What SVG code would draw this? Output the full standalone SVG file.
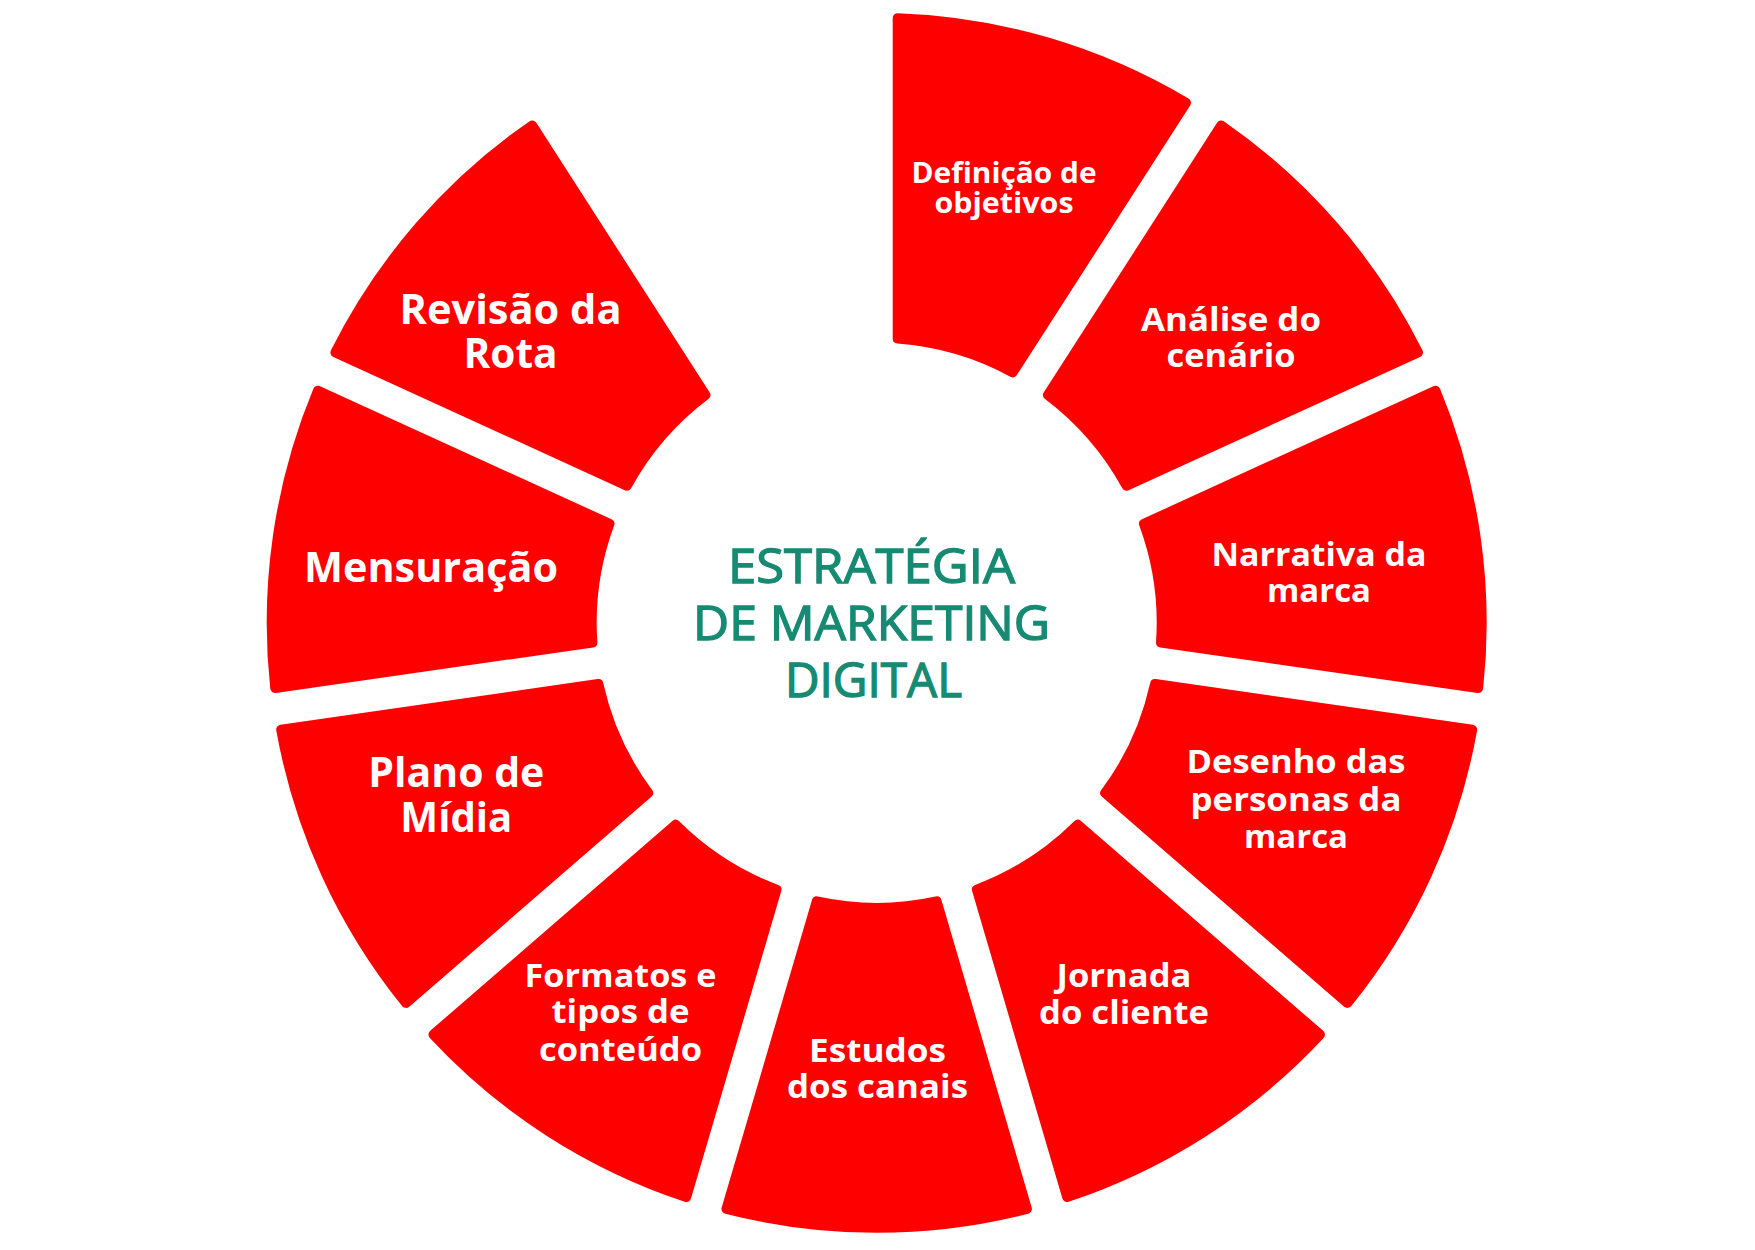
<svg xmlns="http://www.w3.org/2000/svg" xmlns:xlink="http://www.w3.org/1999/xlink" width="1755" height="1250" viewBox="0 0 1755 1250">
<style>
.seg{fill:#ff0000;stroke:#ff0000;stroke-width:10;stroke-linejoin:round}
.lbl{font-family:"Open Sans","Noto Sans","Liberation Sans",sans-serif;font-weight:700;fill:#ffffff;text-anchor:middle}
.s28{font-size:28px}
.s33{font-size:33px}
.s41{font-size:41px}
.ctr{font-family:"Open Sans","Liberation Sans",sans-serif;font-weight:500;font-size:48px;fill:#168a72;stroke:#168a72;stroke-width:1.3;text-anchor:middle}
</style>
<defs>
<path id="seg" class="seg" d="M21,-604.64 A605,605 0 0 1 309.23,-520.01 L136,-250.46 A285,285 0 0 0 21,-284.23 Z"/>
</defs>
<rect width="1755" height="1250" fill="#ffffff"/>
<g id="connectors"></g>
<g id="n1">
<use xlink:href="#seg" href="#seg" transform="translate(876.7 622.8) rotate(0)"/>
<text class="lbl s28"><tspan x="1004" y="183.3" textLength="185" lengthAdjust="spacingAndGlyphs">Definição de</tspan><tspan x="1004" y="213.3" textLength="139" lengthAdjust="spacingAndGlyphs">objetivos</tspan></text>
</g>
<g id="n2">
<use xlink:href="#seg" href="#seg" transform="translate(876.7 622.8) rotate(32.7273)"/>
<text class="lbl s33"><tspan x="1231" y="330.7" textLength="180" lengthAdjust="spacingAndGlyphs">Análise do</tspan><tspan x="1231" y="367.3" textLength="129" lengthAdjust="spacingAndGlyphs">cenário</tspan></text>
</g>
<g id="n3">
<use xlink:href="#seg" href="#seg" transform="translate(876.7 622.8) rotate(65.4545)"/>
<text class="lbl s33"><tspan x="1319" y="565.7" textLength="215" lengthAdjust="spacingAndGlyphs">Narrativa da</tspan><tspan x="1319" y="602.3" textLength="104" lengthAdjust="spacingAndGlyphs">marca</tspan></text>
</g>
<g id="n4">
<use xlink:href="#seg" href="#seg" transform="translate(876.7 622.8) rotate(98.1818)"/>
<text class="lbl s33"><tspan x="1296" y="773.3" textLength="219" lengthAdjust="spacingAndGlyphs">Desenho das</tspan><tspan x="1296" y="810.7" textLength="211" lengthAdjust="spacingAndGlyphs">personas da</tspan><tspan x="1296" y="848.3" textLength="104" lengthAdjust="spacingAndGlyphs">marca</tspan></text>
</g>
<g id="n5">
<use xlink:href="#seg" href="#seg" transform="translate(876.7 622.8) rotate(130.9091)"/>
<text class="lbl s33"><tspan x="1124" y="987.3" textLength="135" lengthAdjust="spacingAndGlyphs">Jornada</tspan><tspan x="1124" y="1024" textLength="170" lengthAdjust="spacingAndGlyphs">do cliente</tspan></text>
</g>
<g id="n6">
<use xlink:href="#seg" href="#seg" transform="translate(876.7 622.8) rotate(163.6364)"/>
<text class="lbl s33"><tspan x="877.5" y="1061.7" textLength="137" lengthAdjust="spacingAndGlyphs">Estudos</tspan><tspan x="877.5" y="1098" textLength="181" lengthAdjust="spacingAndGlyphs">dos canais</tspan></text>
</g>
<g id="n7">
<use xlink:href="#seg" href="#seg" transform="translate(876.7 622.8) rotate(196.3636)"/>
<text class="lbl s33"><tspan x="620.5" y="986.7" textLength="192" lengthAdjust="spacingAndGlyphs">Formatos e</tspan><tspan x="620.5" y="1023.3" textLength="138" lengthAdjust="spacingAndGlyphs">tipos de</tspan><tspan x="620.5" y="1060.7" textLength="163" lengthAdjust="spacingAndGlyphs">conteúdo</tspan></text>
</g>
<g id="n8">
<use xlink:href="#seg" href="#seg" transform="translate(876.7 622.8) rotate(229.0909)"/>
<text class="lbl s41"><tspan x="456.3" y="786.7" textLength="176" lengthAdjust="spacingAndGlyphs">Plano de</tspan><tspan x="456.3" y="831.7" textLength="112" lengthAdjust="spacingAndGlyphs">Mídia</tspan></text>
</g>
<g id="n9">
<use xlink:href="#seg" href="#seg" transform="translate(876.7 622.8) rotate(261.8182)"/>
<text class="lbl s41" x="431" y="581.7" textLength="254" lengthAdjust="spacingAndGlyphs">Mensuração</text>
</g>
<g id="n10">
<use xlink:href="#seg" href="#seg" transform="translate(876.7 622.8) rotate(294.5455)"/>
<text class="lbl s41"><tspan x="510.5" y="324" textLength="222" lengthAdjust="spacingAndGlyphs">Revisão da</tspan><tspan x="510.5" y="368.3" textLength="94" lengthAdjust="spacingAndGlyphs">Rota</tspan></text>
</g>
<g id="center">
<text class="ctr"><tspan x="871.5" y="583" textLength="287" lengthAdjust="spacingAndGlyphs">ESTRATÉGIA</tspan><tspan x="871.5" y="640" textLength="357" lengthAdjust="spacingAndGlyphs">DE MARKETING</tspan><tspan x="873.5" y="697" textLength="177" lengthAdjust="spacingAndGlyphs">DIGITAL</tspan></text>
</g>
</svg>
